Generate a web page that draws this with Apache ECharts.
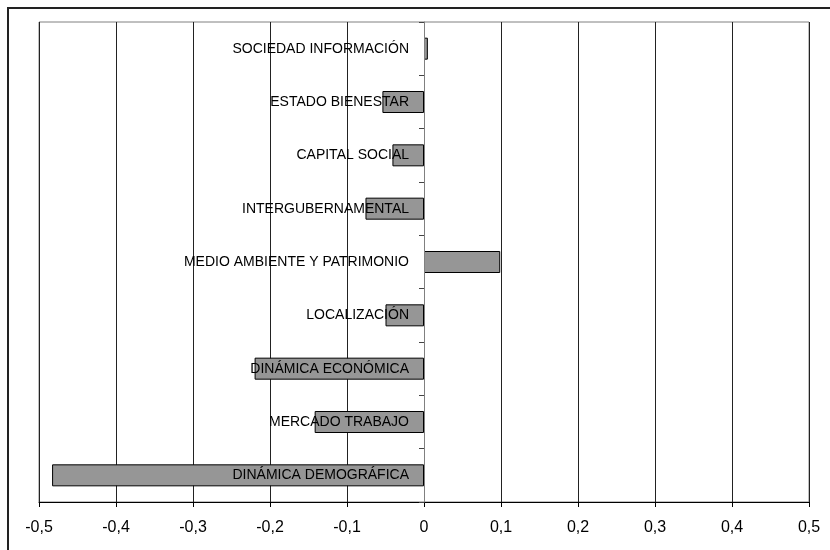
<!DOCTYPE html>
<html>
<head>
<meta charset="utf-8">
<script src="https://cdn.jsdelivr.net/npm/echarts@6/dist/echarts.min.js"></script>
<style>
  html, body { margin: 0; padding: 0; background: #fff; }
  #chart { width: 830px; height: 550px; }
</style>
</head>
<body>
<div id="chart"></div>
<script>
// categorias de abajo hacia arriba
const categories = [
  'DINÁMICA DEMOGRÁFICA',
  'MERCADO TRABAJO',
  'DINÁMICA ECONÓMICA',
  'LOCALIZACIÓN',
  'MEDIO AMBIENTE Y PATRIMONIO',
  'INTERGUBERNAMENTAL',
  'CAPITAL SOCIAL',
  'ESTADO BIENESTAR',
  'SOCIEDAD INFORMACIÓN'
];
const values = [-0.483, -0.142, -0.220, -0.050, 0.099, -0.076, -0.041, -0.054, 0.005];
const xMin = -0.5;
const xMax = 0.5;
const xStep = 0.1;

const chart = echarts.init(document.getElementById('chart'));

const gridLeft = 39;
const gridRight = 21;
const plotWidth = 830 - gridLeft - gridRight;
// mover el eje de categorias hasta el cero (etiquetas incluidas)
const zeroOffset = plotWidth * (0 - xMin) / (xMax - xMin);

const fmt = v => (Math.abs(v) < 1e-9 ? '0' : v.toFixed(1).replace('.', ','));

chart.setOption({
  animation: false,
  graphic: [{
    type: 'rect',
    shape: { x: 8, y: 8, width: 825, height: 560 },
    style: { fill: 'none', stroke: '#222', lineWidth: 2 },
    silent: true
  }],
  grid: {
    left: gridLeft,
    right: gridRight,
    top: 22,
    bottom: 48,
    containLabel: false,
    outerBoundsMode: 'none',
    show: true,
    borderColor: '#808080',
    borderWidth: 1
  },
  xAxis: {
    type: 'value',
    min: xMin,
    max: xMax,
    interval: xStep,
    position: 'bottom',
    axisLine: { show: true, onZero: false, lineStyle: { color: '#000', width: 1 } },
    axisTick: { show: true, length: 5, lineStyle: { color: '#000' } },
    axisLabel: {
      color: '#000',
      fontSize: 16,
      fontFamily: 'Liberation Sans, Arial, sans-serif',
      margin: 18,
      formatter: fmt
    },
    splitLine: { show: true, lineStyle: { color: '#222', width: 1 } }
  },
  yAxis: {
    type: 'category',
    data: categories,
    position: 'left',
    offset: -zeroOffset,
    z: 10,
    axisLine: { show: true, onZero: false, lineStyle: { color: '#808080', width: 1 } },
    axisTick: { show: true, length: 5, lineStyle: { color: '#444' } },
    axisLabel: {
      color: '#000',
      fontSize: 14,
      fontFamily: 'Liberation Sans, Arial, sans-serif',
      margin: 15
    },
    splitLine: { show: false }
  },
  series: [{
    type: 'bar',
    data: values,
    barWidth: 22,
    itemStyle: { color: '#969696', borderColor: '#000', borderWidth: 1 }
  }]
});
</script>
</body>
</html>
